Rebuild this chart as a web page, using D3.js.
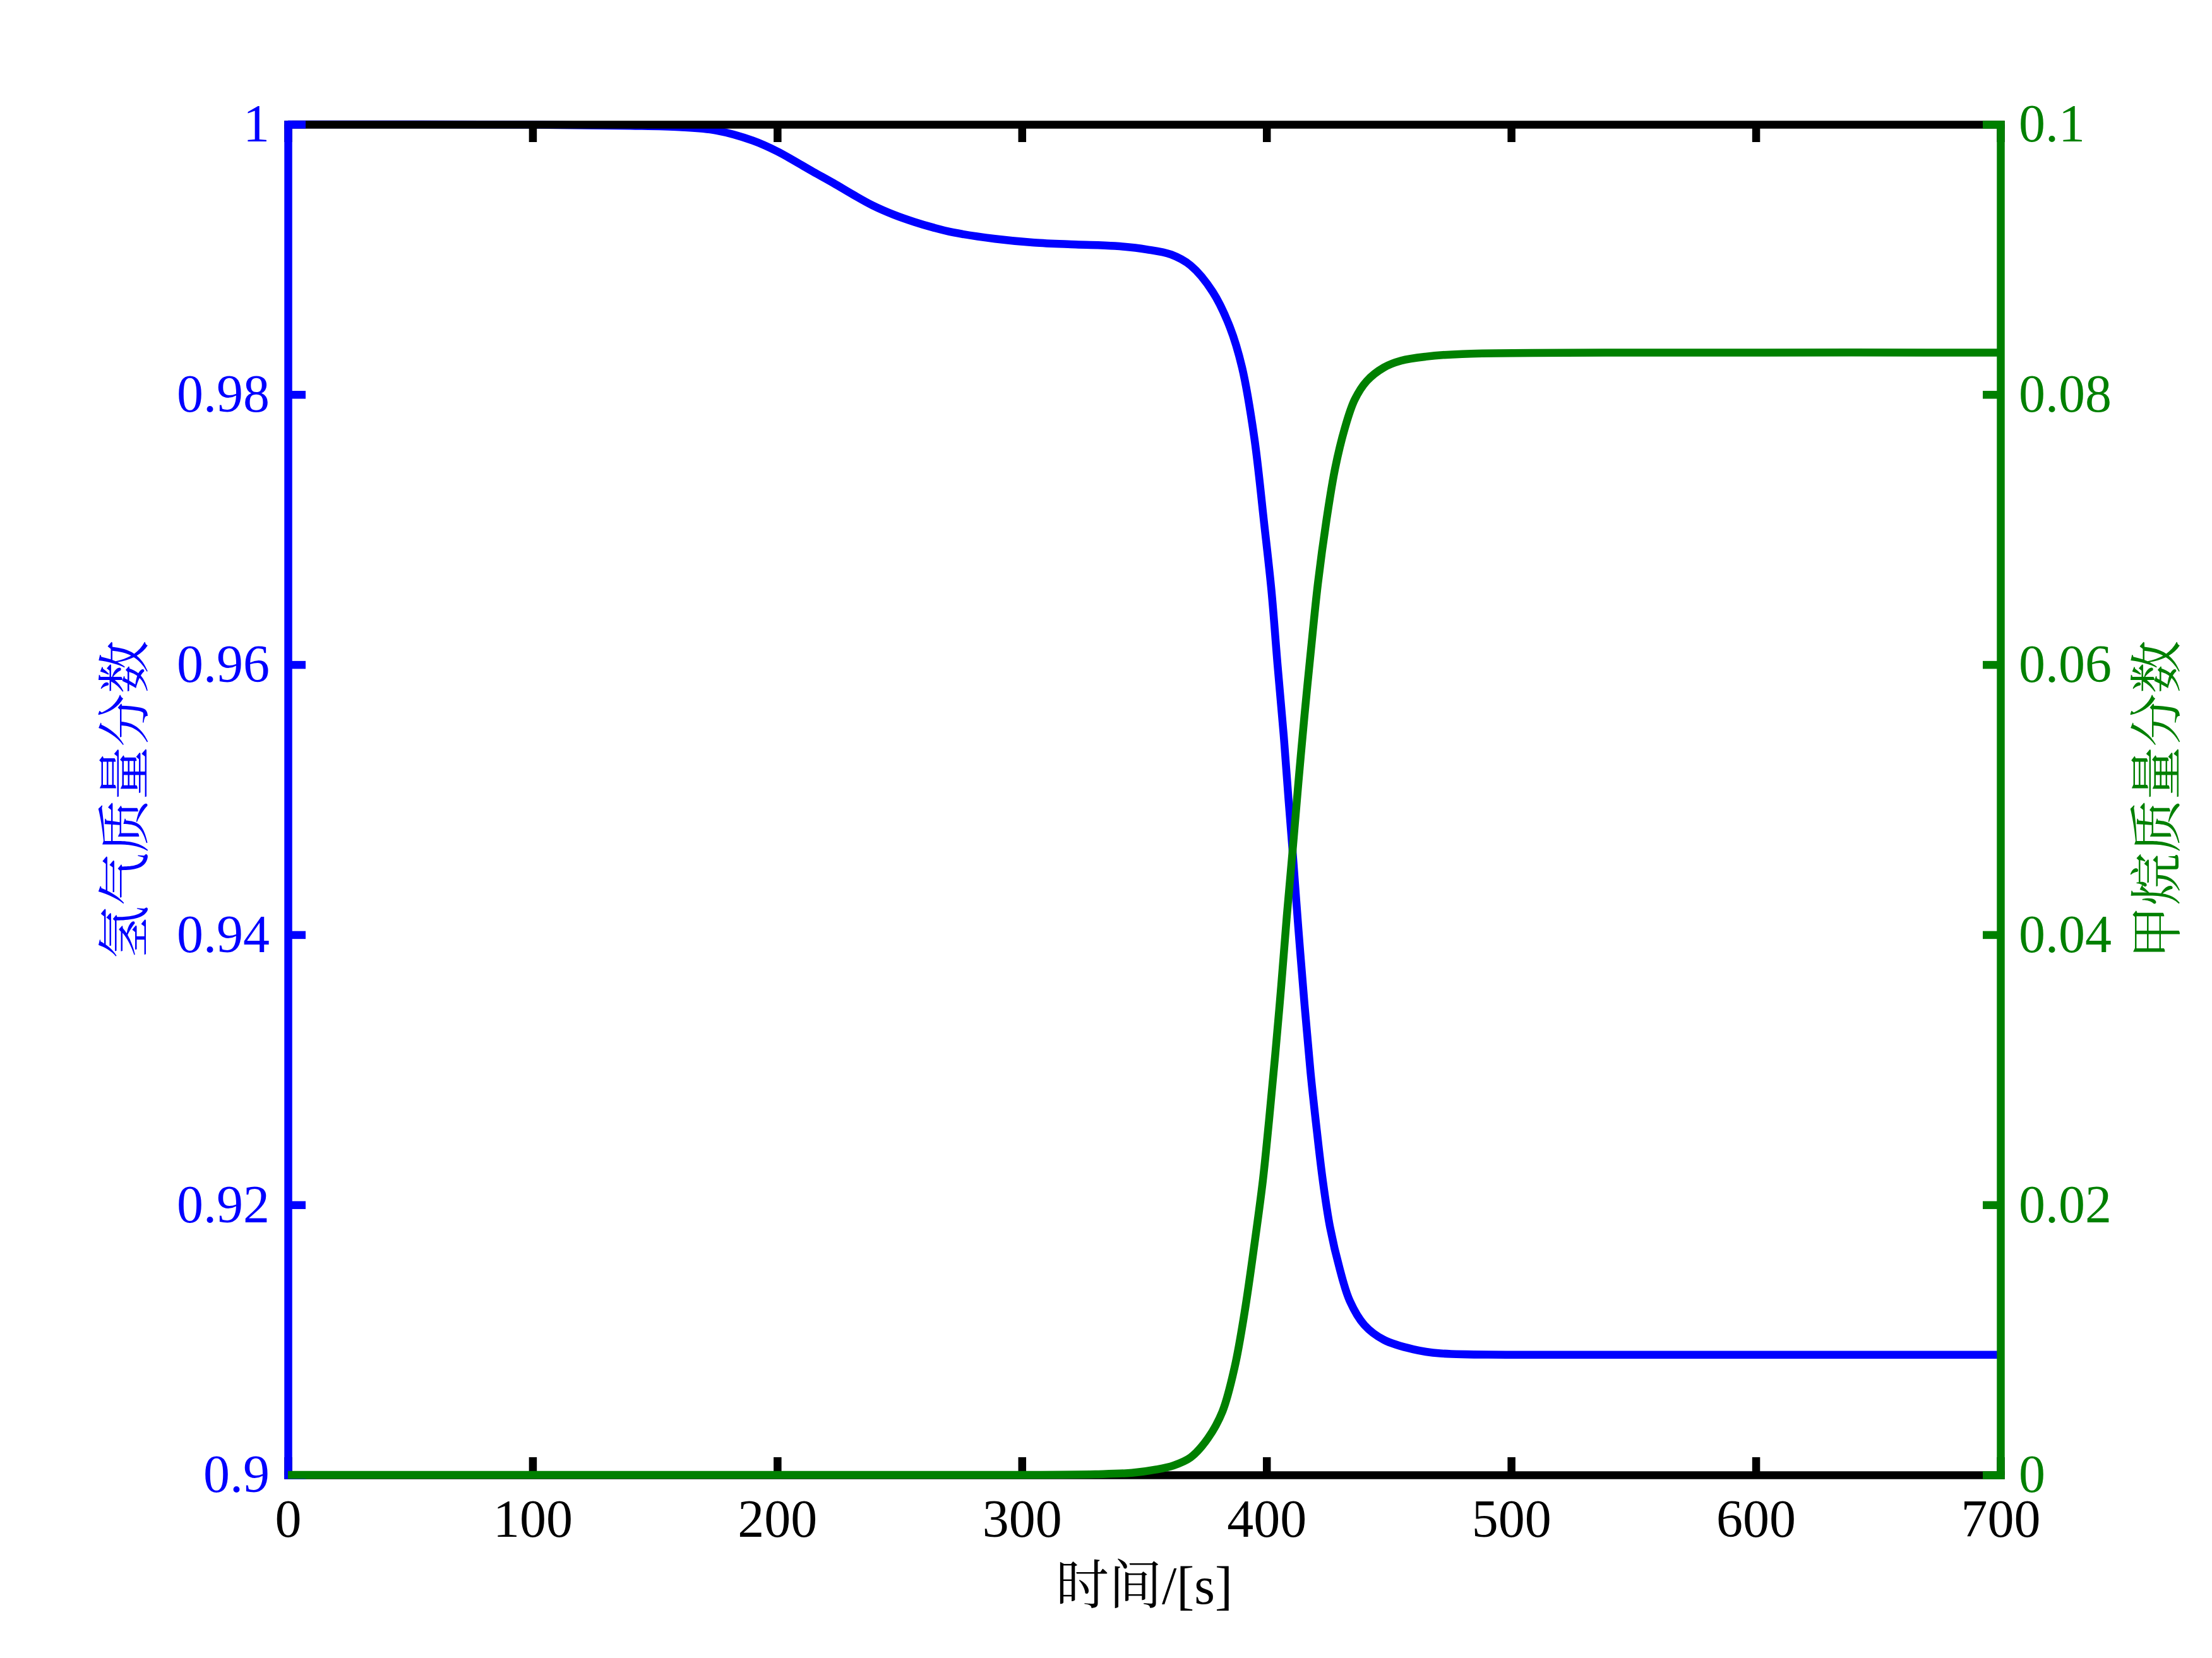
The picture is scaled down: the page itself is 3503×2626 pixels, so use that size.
<!DOCTYPE html>
<html>
<head>
<meta charset="utf-8">
<script src="https://cdn.jsdelivr.net/npm/d3@7"></script>
<style>
	body { margin: 0; background: #ffffff; }
	svg { display: block; }
	.tick text { font-family: "Times New Roman", "Liberation Serif", serif; }
</style>
</head>
<body>
<svg id="chart" width="3503" height="2626"></svg>
<script>
// time axis ticks [s]
var xTicks = [0, 100, 200, 300, 400, 500, 600, 700];
var leftTicks = [0.9, 0.92, 0.94, 0.96, 0.98, 1];
var rightTicks = [0, 0.02, 0.04, 0.06, 0.08, 0.1];

// hydrogen mass fraction (left axis)
var h2Time = [0, 100, 140, 160, 175, 190, 200, 214.6, 223, 231, 239, 247.7, 256, 264, 272, 289, 305, 322, 338,
	351, 361, 369, 378, 385, 390, 395, 399, 402, 404.5, 407, 409, 410.7, 413, 415.5, 418, 420.5, 423, 426, 430,
	434, 440, 448, 460, 471, 500, 600, 700];
var h2Frac = [1.0, 0.99998, 0.9999, 0.9998, 0.99955, 0.9988, 0.998, 0.9965, 0.99565, 0.9948, 0.994, 0.99331,
	0.99278, 0.99235, 0.992, 0.99153, 0.99125, 0.99111, 0.991, 0.99074, 0.99036, 0.98955, 0.9876, 0.985, 0.982,
	0.9768, 0.9705, 0.9655, 0.96, 0.9548, 0.95, 0.9461, 0.9405, 0.9349, 0.9298, 0.9256, 0.9218, 0.9183, 0.9152,
	0.9129, 0.9111, 0.91, 0.9093, 0.909, 0.9089, 0.9089, 0.9089];

// methane mass fraction (right axis)
var ch4Time = [0, 100, 200, 300, 330, 345, 355, 362, 369, 376, 382, 387, 391, 395, 398.5, 401, 403.5, 406, 408.3,
	410.7, 413, 415.5, 418, 421, 424.5, 428, 432, 436, 441, 448, 455, 465, 480, 600, 700];
var ch4Frac = [0, 0, 0, 0, 0.00005, 0.00015, 0.0004, 0.0007, 0.0013, 0.0027, 0.0047, 0.008, 0.012, 0.017, 0.0218,
	0.0262, 0.031, 0.0362, 0.0414, 0.0463, 0.0512, 0.0562, 0.0608, 0.066, 0.0707, 0.0745, 0.0775, 0.0796, 0.081,
	0.082, 0.0825, 0.0828, 0.083, 0.0831, 0.0831];

var xLabel = "时间/[s]",
	leftLabel = "氢气质量分数",
	rightLabel = "甲烷质量分数";

var blue = "#0000ff",
	green = "#008000",
	fontSize = 84,
	lineW = 12.5,
	axisW = 12.5,
	tickLen = 28;

var svg = d3.select("#chart");
var plotLeft = 456, plotRight = 3168, plotTop = 197, plotBottom = 2336;

svg.append("rect").attr("width", 3503).attr("height", 2626).attr("fill", "#ffffff");

var x = d3.scaleLinear().domain([0, 700]).range([plotLeft, plotRight]);
var yL = d3.scaleLinear().domain([0.9, 1]).range([plotBottom, plotTop]);
var yR = d3.scaleLinear().domain([0, 0.1]).range([plotBottom, plotTop]);

function fmt(d) {
	return String(+d.toFixed(2));
}

function styleAxis(g, color) {
	g.select(".domain").attr("stroke", color).attr("stroke-width", axisW).attr("stroke-linecap", "square");
	g.selectAll(".tick line").attr("stroke", color).attr("stroke-width", axisW);
	g.selectAll(".tick text").attr("fill", color).style("font-size", fontSize + "px");
}

// hydrogen curve (drawn under the box, as in the source figure)
var h2Line = d3.line()
	.x(function(d, i) { return x(h2Time[i]); })
	.y(function(d) { return yL(d); })
	.curve(d3.curveCatmullRom.alpha(0.5));

svg.append("path")
	.attr("d", h2Line(h2Frac))
	.attr("fill", "none")
	.attr("stroke", blue)
	.attr("stroke-width", lineW)
	.attr("stroke-linejoin", "round");

// top and bottom box lines with x ticks
var gTop = svg.append("g")
	.attr("transform", "translate(0," + plotTop + ")")
	.call(d3.axisTop(x).tickValues(xTicks).tickSize(-tickLen).tickSizeOuter(0).tickFormat(""));
styleAxis(gTop, "#000000");

var gBottom = svg.append("g")
	.attr("transform", "translate(0," + plotBottom + ")")
	.call(d3.axisBottom(x).tickValues(xTicks).tickSize(-tickLen).tickSizeOuter(0).tickPadding(38).tickFormat(d3.format("d")));
styleAxis(gBottom, "#000000");

var gLeft = svg.append("g")
	.attr("transform", "translate(" + plotLeft + ",0)")
	.call(d3.axisLeft(yL).tickValues(leftTicks).tickSize(-tickLen).tickSizeOuter(0).tickPadding(29).tickFormat(fmt));
styleAxis(gLeft, blue);

var gRight = svg.append("g")
	.attr("transform", "translate(" + plotRight + ",0)")
	.call(d3.axisRight(yR).tickValues(rightTicks).tickSize(-tickLen).tickSizeOuter(0).tickPadding(29).tickFormat(fmt));
styleAxis(gRight, green);

// methane curve on top
var ch4Line = d3.line()
	.x(function(d, i) { return x(ch4Time[i]); })
	.y(function(d) { return yR(d); })
	.curve(d3.curveCatmullRom.alpha(0.5));

svg.append("path")
	.attr("d", ch4Line(ch4Frac))
	.attr("fill", "none")
	.attr("stroke", green)
	.attr("stroke-width", lineW)
	.attr("stroke-linejoin", "round");

// axis titles
var titleFont = "'Times New Roman', 'Liberation Serif', 'Noto Serif CJK SC', 'Noto Sans CJK SC', serif";

svg.append("text")
	.attr("x", (plotLeft + plotRight) / 2)
	.attr("y", 2540)
	.attr("text-anchor", "middle")
	.attr("fill", "#000000")
	.style("font-family", titleFont)
	.style("font-size", fontSize + "px")
	.text(xLabel);

svg.append("text")
	.attr("transform", "translate(198," + (plotTop + plotBottom) / 2 + ") rotate(-90)")
	.attr("text-anchor", "middle")
	.attr("dominant-baseline", "central")
	.attr("fill", blue)
	.style("font-family", titleFont)
	.style("font-size", fontSize + "px")
	.text(leftLabel);

svg.append("text")
	.attr("transform", "translate(3416," + (plotTop + plotBottom) / 2 + ") rotate(-90)")
	.attr("text-anchor", "middle")
	.attr("dominant-baseline", "central")
	.attr("fill", green)
	.style("font-family", titleFont)
	.style("font-size", fontSize + "px")
	.text(rightLabel);
</script>
</body>
</html>
